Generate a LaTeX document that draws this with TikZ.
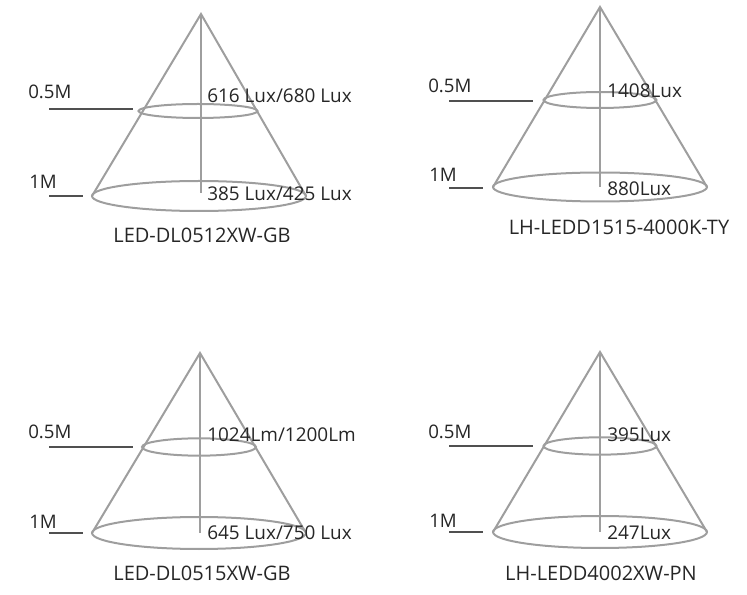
\documentclass[tikz,border=0pt]{standalone}
\usepackage{fontspec}
\setmainfont{Open Sans}
\usetikzlibrary{shapes.geometric}
\definecolor{conegray}{HTML}{9E9E9E}
\definecolor{markgray}{HTML}{505050}
\definecolor{txtgray}{HTML}{262626}
\tikzset{
  coneline/.style={draw=conegray, line width=1.5pt},
  ring/.style={ellipse, draw=conegray, line width=1.5pt, inner sep=0pt, outer sep=0pt},
  marker/.style={draw=markgray, line width=1.9pt},
  valtext/.style={anchor=base west, inner sep=0pt, text=txtgray, font=\fontsize{14.2}{16}\selectfont},
  disttext/.style={anchor=base west, inner sep=0pt, text=txtgray, font=\fontsize{14}{16}\selectfont},
  labeltext/.style={anchor=base, inner sep=0pt, text=txtgray, font=\fontsize{15}{17}\selectfont},
}
\begin{document}
\begin{tikzpicture}[x=0.75pt, y=-0.75pt]
\useasboundingbox (0,0) rectangle (747,595);

% ---------- Cone A (top left) ----------
\coordinate (Aapex) at (201,14);
\coordinate (Aaxis) at (201,193);
\node[ring, minimum width=89.25pt, minimum height=10.5pt] (Aup) at (198,111) {};
\node[ring, minimum width=160.5pt, minimum height=22.5pt] (Alow) at (199,196) {};
\draw[coneline] (Alow.west) -- (Aapex) -- (Alow.east);
\draw[coneline] (Aapex) -- (Aaxis);
\coordinate (Am05a) at (49,109); \coordinate (Am05b) at (133,109);
\coordinate (Am1a) at (49,196); \coordinate (Am1b) at (83,196);
\draw[marker] (Am05a) -- (Am05b);
\draw[marker] (Am1a) -- (Am1b);
\node[disttext] (At05) at (28,99) {0.5M};
\node[disttext] (At1) at (29,189) {1M};
\node[valtext] (Av1) at (207,103) {616 Lux/680 Lux};
\node[valtext] (Av2) at (207,200.5) {385 Lux/425 Lux};
\node[labeltext] (Alab) at (202,243) {LED-DL0512XW-GB};

% ---------- Cone B (top right) ----------
\coordinate (Bapex) at (600,7);
\coordinate (Baxis) at (600,187);
\node[ring, minimum width=84.75pt, minimum height=12pt] (Bup) at (600,100) {};
\node[ring, minimum width=160.5pt, minimum height=21.75pt] (Blow) at (600,187) {};
\draw[coneline] (Blow.west) -- (Bapex) -- (Blow.east);
\draw[coneline] (Bapex) -- (Baxis);
\coordinate (Bm05a) at (449,101); \coordinate (Bm05b) at (533,101);
\coordinate (Bm1a) at (449,188); \coordinate (Bm1b) at (483,188);
\draw[marker] (Bm05a) -- (Bm05b);
\draw[marker] (Bm1a) -- (Bm1b);
\node[disttext] (Bt05) at (428,92.5) {0.5M};
\node[disttext] (Bt1) at (429,181.5) {1M};
\node[valtext] (Bv1) at (607,98) {1408Lux};
\node[valtext] (Bv2) at (607,196) {880Lux};
\node[labeltext] (Blab) at (619,235) {LH-LEDD1515-4000K-TY};

% ---------- Cone C (bottom left) ----------
\coordinate (Capex) at (200,353);
\coordinate (Caxis) at (200,533);
\node[ring, minimum width=85.5pt, minimum height=13pt] (Cup) at (199,447) {};
\node[ring, minimum width=160.5pt, minimum height=24pt] (Clow) at (199,533) {};
\draw[coneline] (Clow.west) -- (Capex) -- (Clow.east);
\draw[coneline] (Capex) -- (Caxis);
\coordinate (Cm05a) at (49,447); \coordinate (Cm05b) at (133,447);
\coordinate (Cm1a) at (49,533); \coordinate (Cm1b) at (83,533);
\draw[marker] (Cm05a) -- (Cm05b);
\draw[marker] (Cm1a) -- (Cm1b);
\node[disttext] (Ct05) at (28,439) {0.5M};
\node[disttext] (Ct1) at (29,528.5) {1M};
\node[valtext] (Cv1) at (207,442) {1024Lm/1200Lm};
\node[valtext] (Cv2) at (207,539.5) {645 Lux/750 Lux};
\node[labeltext] (Clab) at (202,580.7) {LED-DL0515XW-GB};

% ---------- Cone D (bottom right) ----------
\coordinate (Dapex) at (600,352);
\coordinate (Daxis) at (600,532);
\node[ring, minimum width=84.75pt, minimum height=13pt] (Dup) at (600,446) {};
\node[ring, minimum width=160.5pt, minimum height=24pt] (Dlow) at (600,532) {};
\draw[coneline] (Dlow.west) -- (Dapex) -- (Dlow.east);
\draw[coneline] (Dapex) -- (Daxis);
\coordinate (Dm05a) at (449,446); \coordinate (Dm05b) at (533,446);
\coordinate (Dm1a) at (449,532); \coordinate (Dm1b) at (483,532);
\draw[marker] (Dm05a) -- (Dm05b);
\draw[marker] (Dm1a) -- (Dm1b);
\node[disttext] (Dt05) at (428,439) {0.5M};
\node[disttext] (Dt1) at (429,527.5) {1M};
\node[valtext] (Dv1) at (607,441.5) {395Lux};
\node[valtext] (Dv2) at (607,539.5) {247Lux};
\node[labeltext] (Dlab) at (601,580.7) {LH-LEDD4002XW-PN};
\end{tikzpicture}
\end{document}
